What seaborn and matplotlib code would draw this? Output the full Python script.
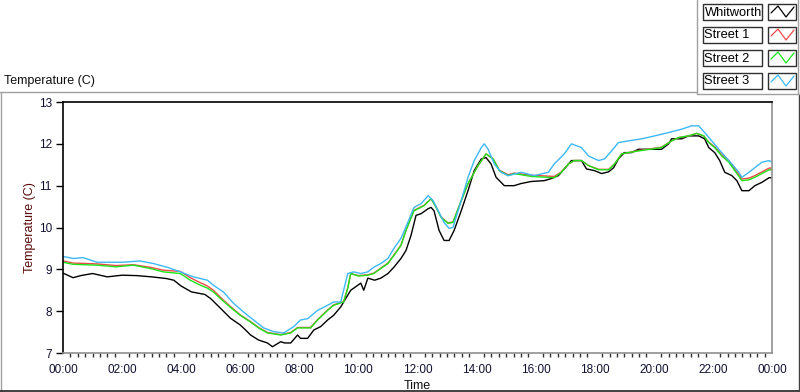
import matplotlib
matplotlib.use("Agg")
import matplotlib.pyplot as plt
from matplotlib.lines import Line2D
from matplotlib.patches import Rectangle
from matplotlib.ticker import FixedLocator, MultipleLocator, FuncFormatter
import seaborn as sns
import pandas as pd

# ---------------- data (hours of day, temperature in C) ----------------
whit_h = [0.0, 0.34, 0.6, 1.0, 1.5, 2.0, 2.5, 3.0, 3.5, 3.75, 4.0, 4.35, 4.8, 5.0, 5.33, 5.5,
          5.67, 6.0, 6.18, 6.35, 6.62, 6.92, 7.09, 7.37, 7.5, 7.71, 7.94, 8.04, 8.28, 8.49,
          8.72, 8.96, 9.16, 9.4, 9.5, 9.74, 10.08, 10.18, 10.32, 10.55, 10.76, 11.0, 11.2,
          11.44, 11.61, 11.78, 11.95, 12.12, 12.36, 12.46, 12.56, 12.73, 12.9, 13.07, 13.24,
          13.48, 13.71, 13.92, 14.16, 14.32, 14.49, 14.66, 14.94, 15.27, 15.5, 15.85, 16.29,
          16.53, 16.77, 16.97, 17.21, 17.55, 17.72, 17.99, 18.23, 18.47, 18.64, 18.8, 19.0,
          19.24, 19.48, 20.26, 20.5, 20.6, 20.94, 21.18, 21.52, 21.72, 21.86, 22.06, 22.23,
          22.4, 22.64, 22.81, 22.98, 23.22, 23.42, 23.66, 23.9, 24.0]
whit_t = [8.91, 8.80, 8.85, 8.90, 8.82, 8.86, 8.85, 8.82, 8.78, 8.74, 8.60, 8.46, 8.40, 8.30,
          8.07, 7.95, 7.83, 7.67, 7.55, 7.43, 7.31, 7.24, 7.15, 7.27, 7.24, 7.24, 7.43, 7.35,
          7.35, 7.55, 7.63, 7.79, 7.90, 8.10, 8.22, 8.50, 8.67, 8.50, 8.79, 8.74, 8.79, 8.90,
          9.05, 9.26, 9.45, 9.81, 10.29, 10.33, 10.45, 10.48, 10.40, 9.93, 9.69, 9.69, 9.93,
          10.40, 10.88, 11.36, 11.64, 11.67, 11.52, 11.20, 11.00, 11.00, 11.05, 11.10, 11.12,
          11.17, 11.24, 11.40, 11.60, 11.60, 11.40, 11.36, 11.29, 11.33, 11.43, 11.64, 11.79,
          11.79, 11.87, 11.87, 12.00, 12.12, 12.12, 12.19, 12.19, 12.12, 11.91, 11.79, 11.60,
          11.32, 11.24, 11.12, 10.88, 10.88, 11.00, 11.08, 11.19, 11.19]

st2_h = [0.0, 0.34, 1.15, 1.8, 2.38, 2.95, 3.39, 3.97, 4.31, 4.65, 4.89, 5.09, 5.33, 5.67, 6.0,
         6.35, 6.62, 6.92, 7.37, 7.71, 7.94, 8.38, 8.62, 8.96, 9.16, 9.5, 9.64, 9.74, 10.0,
         10.32, 10.52, 10.76, 11.0, 11.2, 11.44, 11.61, 11.88, 12.22, 12.46, 12.63, 12.8,
         13.03, 13.2, 13.48, 13.71, 14.05, 14.32, 14.56, 14.77, 15.07, 15.27, 15.85, 16.63,
         16.87, 17.11, 17.31, 17.55, 17.79, 18.13, 18.47, 18.67, 18.91, 19.14, 19.48, 20.26,
         20.6, 20.84, 21.18, 21.45, 21.69, 21.86, 22.06, 22.3, 22.54, 22.74, 22.98, 23.22,
         23.42, 23.66, 23.9, 24.0]
st2_t = [9.17, 9.12, 9.10, 9.06, 9.10, 9.02, 8.94, 8.90, 8.74, 8.62, 8.55, 8.46, 8.30, 8.09,
         7.90, 7.74, 7.60, 7.48, 7.43, 7.48, 7.60, 7.60, 7.79, 8.02, 8.14, 8.22, 8.55, 8.90,
         8.84, 8.86, 8.90, 9.02, 9.14, 9.33, 9.57, 9.93, 10.40, 10.52, 10.69, 10.48, 10.24,
         10.10, 10.12, 10.64, 11.05, 11.48, 11.76, 11.64, 11.36, 11.24, 11.29, 11.22, 11.19,
         11.32, 11.52, 11.60, 11.60, 11.48, 11.38, 11.38, 11.52, 11.76, 11.79, 11.83, 11.91,
         12.07, 12.15, 12.19, 12.25, 12.19, 12.03, 11.91, 11.71, 11.56, 11.36, 11.12, 11.14,
         11.20, 11.29, 11.38, 11.38]

# Street 1 is sampled at the same times as Street 2 and lies almost underneath it
st1_h = st2_h
st1_t = [9.20, 9.15, 9.13, 9.09, 9.11, 9.05, 8.98, 8.95, 8.80, 8.68, 8.60, 8.50, 8.33, 8.11,
         7.91, 7.75, 7.61, 7.49, 7.44, 7.49, 7.61, 7.61, 7.80, 8.03, 8.15, 8.23, 8.56, 8.90,
         8.85, 8.87, 8.91, 9.03, 9.15, 9.34, 9.58, 9.93, 10.41, 10.53, 10.69, 10.49, 10.25,
         10.11, 10.13, 10.64, 11.05, 11.48, 11.76, 11.64, 11.37, 11.26, 11.30, 11.25, 11.22,
         11.33, 11.52, 11.60, 11.60, 11.48, 11.39, 11.39, 11.52, 11.76, 11.79, 11.84, 11.92,
         12.07, 12.15, 12.19, 12.25, 12.19, 12.04, 11.93, 11.74, 11.60, 11.40, 11.16, 11.18,
         11.24, 11.33, 11.42, 11.42]

st3_h = [0.0, 0.34, 0.68, 1.15, 2.04, 2.61, 3.05, 3.53, 3.97, 4.41, 4.89, 5.09, 5.43, 5.77,
         6.11, 6.45, 6.79, 7.13, 7.47, 7.81, 8.04, 8.28, 8.62, 8.96, 9.16, 9.4, 9.64, 9.84,
         10.08, 10.32, 10.52, 10.76, 11.0, 11.2, 11.44, 11.6, 11.88, 12.12, 12.36, 12.53,
         12.7, 12.9, 13.07, 13.2, 13.48, 13.71, 13.92, 14.16, 14.26, 14.39, 14.6, 14.83,
         15.07, 15.51, 15.95, 16.43, 16.63, 16.97, 17.21, 17.55, 17.79, 18.13, 18.33, 18.57,
         18.8, 19.14, 19.59, 20.03, 20.5, 20.94, 21.28, 21.52, 21.72, 21.96, 22.2, 22.4,
         22.64, 22.88, 22.98, 23.22, 23.42, 23.66, 23.9, 24.0]
st3_t = [9.31, 9.26, 9.28, 9.17, 9.17, 9.20, 9.14, 9.05, 8.94, 8.82, 8.74, 8.62, 8.46, 8.19,
         7.98, 7.79, 7.60, 7.51, 7.48, 7.63, 7.79, 7.82, 8.02, 8.14, 8.22, 8.22, 8.90, 8.94,
         8.90, 8.94, 9.05, 9.14, 9.26, 9.50, 9.74, 10.00, 10.48, 10.57, 10.76, 10.64, 10.40,
         10.12, 9.98, 10.00, 10.64, 11.20, 11.60, 11.91, 12.00, 11.87, 11.52, 11.32, 11.24,
         11.32, 11.24, 11.32, 11.52, 11.76, 12.00, 11.91, 11.71, 11.60, 11.64, 11.83, 12.03,
         12.07, 12.12, 12.19, 12.27, 12.35, 12.43, 12.43, 12.27, 12.07, 11.87, 11.71, 11.52,
         11.32, 11.20, 11.32, 11.43, 11.56, 11.60, 11.56]

series_names = ["Whitworth", "Street 1", "Street 2", "Street 3"]
series_colors = ["#000000", "#f04848", "#19e619", "#3cb8f5"]
x_tick_labels = ["00:00", "02:00", "04:00", "06:00", "08:00", "10:00", "12:00",
                 "14:00", "16:00", "18:00", "20:00", "22:00", "00:00"]
y_ticks = [7, 8, 9, 10, 11, 12, 13]

frames = []
for name, hh, tt in zip(series_names, [whit_h, st1_h, st2_h, st3_h],
                        [whit_t, st1_t, st2_t, st3_t]):
    frames.append(pd.DataFrame({"hour": hh, "temp": tt, "series": name}))
df = pd.concat(frames, ignore_index=True)

# ---------------- figure ----------------
sns.set_style("white")
plt.rcParams["font.family"] = ["Liberation Sans", "DejaVu Sans"]

W, H = 800, 392
fig = plt.figure(figsize=(8, 3.92), dpi=100)
L, R, T, B = 63, 772, 102, 353
ax = fig.add_axes([L / W, 1 - B / H, (R - L) / W, (B - T) / H])

sns.lineplot(data=df, x="hour", y="temp", hue="series", hue_order=series_names,
             palette=series_colors, estimator=None, sort=False, linewidth=1.0,
             legend=False, ax=ax)

ax.set_xlim(0, 24)
ax.set_ylim(7, 13)
ax.xaxis.set_major_locator(FixedLocator(list(range(0, 25, 2))))
ax.xaxis.set_major_formatter(FuncFormatter(lambda v, p: x_tick_labels[int(round(v / 2))]
                                           if 0 <= int(round(v / 2)) < len(x_tick_labels) else ""))
ax.xaxis.set_minor_locator(MultipleLocator(0.25))
ax.yaxis.set_major_locator(FixedLocator(y_ticks))
ax.yaxis.set_major_formatter(FuncFormatter(lambda v, p: f"{int(v)}"))

ax.tick_params(axis="x", which="major", direction="out", length=5, width=1,
               color="#303030", labelsize=8.5, labelcolor="#101030", pad=3)
ax.tick_params(axis="x", which="minor", direction="out", length=3, width=1,
               color="#303030", bottom=True)
ax.tick_params(axis="y", which="major", direction="out", length=5, width=1,
               color="#000000", labelsize=8.5, labelcolor="#101030", pad=3, left=True)

for s in ["left", "top"]:
    ax.spines[s].set_color("#000000")
    ax.spines[s].set_linewidth(1.2)
for s in ["right", "bottom"]:
    ax.spines[s].set_color("#909090")
    ax.spines[s].set_linewidth(1.2)

ax.set_xlabel("Time", fontsize=9, color="#101010", labelpad=3)
ax.set_ylabel("Temperature (C)", fontsize=9, color="#5a0a0a", labelpad=2)

# caption above the plot
fig.text(4 / W, 1 - 81 / H, "Temperature (C)", fontsize=9, color="#101010",
         ha="left", va="center")


def fline(xs, ys, color, lw=1.0):
    fig.add_artist(Line2D([x / W for x in xs], [1 - y / H for y in ys],
                          color=color, linewidth=lw, transform=fig.transFigure))


# window frame lines
fline([0, 697], [91.5, 91.5], "#a0a0a0")
fline([0.5, 0.5], [91.5, 392], "#a0a0a0")
fline([0, 800], [391.3, 391.3], "#202020", 1.2)
fline([799, 799], [94, 392], "#404040")
fline([697, 697], [0, 94], "#a0a0a0")
fline([697, 800], [94, 94], "#a0a0a0")
fline([798, 798], [0, 94], "#a0a0a0")

# legend
leg_y = [4, 27, 50, 73]
for name, col, y0 in zip(series_names, series_colors, leg_y):
    fig.add_artist(Rectangle((703 / W, 1 - (y0 + 16) / H), 59 / W, 16 / H,
                             transform=fig.transFigure, facecolor="white",
                             edgecolor="#303030", linewidth=1.0))
    fig.text(704.5 / W, 1 - (y0 + 8.5) / H, name, fontsize=9.3, color="#000000",
             ha="left", va="center")
    fig.add_artist(Rectangle((768 / W, 1 - (y0 + 16) / H), 28 / W, 16 / H,
                             transform=fig.transFigure, facecolor="white",
                             edgecolor="#303030", linewidth=1.0))
    zx = [771, 778, 786, 794]
    zy = [y0 + 9, y0 + 2, y0 + 13, y0 + 3]
    fline(zx, zy, col, 0.9)

fig.savefig("out.png", dpi=100)
